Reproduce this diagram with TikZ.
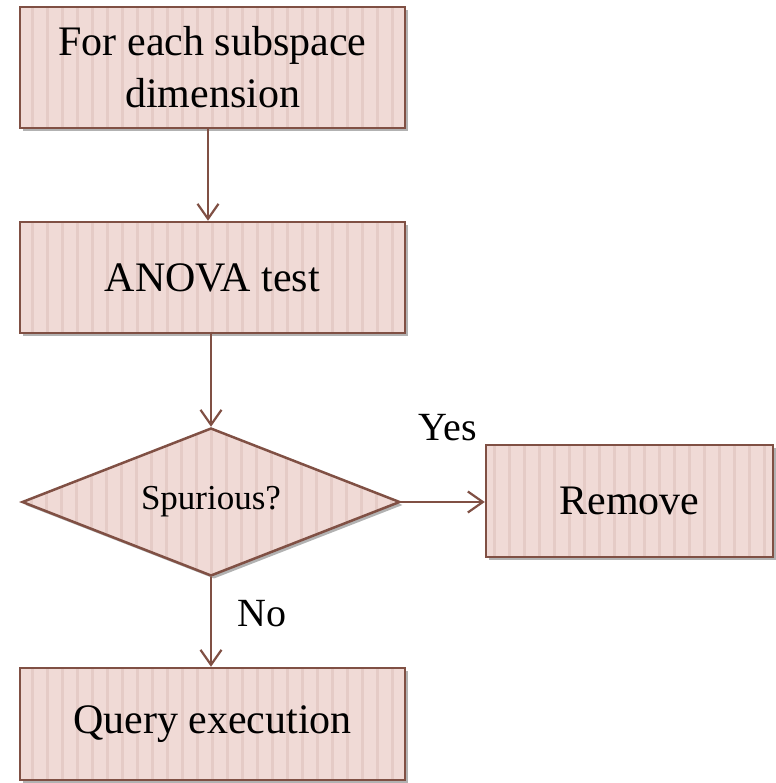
\documentclass[tikz,border=0pt]{standalone}
\usepackage{fontspec}
\setmainfont{Liberation Serif}
\usetikzlibrary{shapes.geometric,arrows.meta,shadows}
\definecolor{boxfill}{RGB}{240,218,214}
\definecolor{boxstripe}{RGB}{229,203,198}
\definecolor{boxline}{RGB}{128,80,68}
\tikzset{
  striped/.style={path picture={
    \foreach \i in {-30,...,30}
      \draw[boxstripe,line width=3pt]
        ([xshift=\i*15pt]path picture bounding box.north) --
        ([xshift=\i*15pt]path picture bounding box.south);}},
  flowbox/.style={draw=boxline,line width=2.5pt,fill=boxfill,striped,
    drop shadow={shadow xshift=3pt,shadow yshift=-3pt,fill=black,opacity=0.3},
    inner sep=0pt,align=center,font=\fontsize{42}{52}\selectfont},
  decision/.style={flowbox,shape=diamond,aspect=2.55,font=\fontsize{35}{40}\selectfont},
  flowarrow/.style={draw=boxline,line width=2.2pt,
    -{Straight Barb[length=15pt,width=21pt,line width=2.2pt]}},
  edgelabel/.style={font=\fontsize{40}{44}\selectfont,inner sep=0pt}
}
\begin{document}
\begin{tikzpicture}[x=1pt,y=-1pt]
\useasboundingbox (0,0) rectangle (775,783);
\node[flowbox,minimum width=385pt,minimum height=121pt] (dim) at (212.5,67.5)
  {For each subspace\\dimension};
\node[flowbox,minimum width=385pt,minimum height=111pt] (anova) at (212.5,277.5)
  {ANOVA test};
\node[decision,minimum width=378pt,minimum height=148pt] (spur) at (211,502)
  {Spurious?};
\node[flowbox,minimum width=287pt,minimum height=112pt] (rem) at (629.5,501)
  {Remove};
\node[flowbox,minimum width=385pt,minimum height=112pt] (query) at (212.5,724)
  {Query execution};
\draw[flowarrow] (dim.south -| 208,0) -- (anova.north -| 208,0);
\draw[flowarrow] (anova.south -| 211,0) -- (spur.north);
\draw[flowarrow] (spur.east) -- (rem.west |- spur.east);
\draw[flowarrow] (spur.south) -- (query.north -| spur.south);
\node[edgelabel] (yes) at (448,428) {Yes};
\node[edgelabel] (no) at (262,614) {No};
\end{tikzpicture}
\end{document}
